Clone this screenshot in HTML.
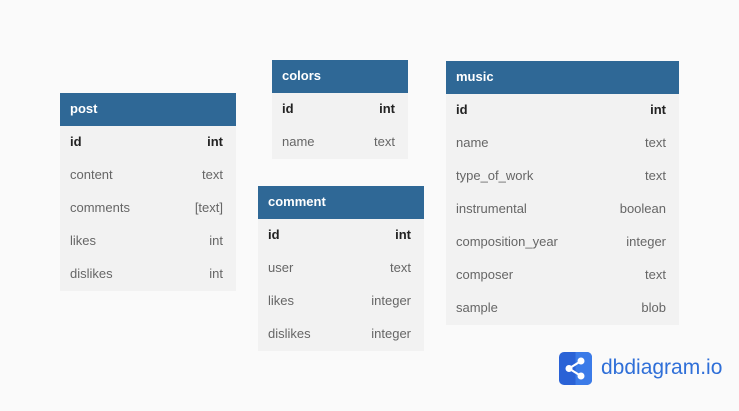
<!DOCTYPE html>
<html><head><style>
body{margin:0;width:739px;height:411px;background:#fafafa;font-family:"Liberation Sans",sans-serif;position:relative;overflow:hidden}
.t{position:absolute;background:#f2f2f2}
.h{background:#2f6896;color:#fff;font-weight:bold;font-size:13px;height:33px;line-height:31px;padding-left:10px}
.r{height:33px;line-height:31px;font-size:13px;color:#666;display:flex;justify-content:space-between;padding:0 13px 0 10px}
.r.k{color:#222;font-weight:bold}
</style></head><body>
<div class="t" style="left:60px;top:93px;width:176px">
<div class="h">post</div>
<div class="r k"><span>id</span><span>int</span></div>
<div class="r"><span>content</span><span>text</span></div>
<div class="r"><span>comments</span><span>[text]</span></div>
<div class="r"><span>likes</span><span>int</span></div>
<div class="r"><span>dislikes</span><span>int</span></div>
</div>
<div class="t" style="left:272px;top:60px;width:136px">
<div class="h">colors</div>
<div class="r k"><span>id</span><span>int</span></div>
<div class="r"><span>name</span><span>text</span></div>
</div>
<div class="t" style="left:258px;top:186px;width:166px">
<div class="h">comment</div>
<div class="r k"><span>id</span><span>int</span></div>
<div class="r"><span>user</span><span>text</span></div>
<div class="r"><span>likes</span><span>integer</span></div>
<div class="r"><span>dislikes</span><span>integer</span></div>
</div>
<div class="t" style="left:446px;top:61px;width:233px">
<div class="h">music</div>
<div class="r k"><span>id</span><span>int</span></div>
<div class="r"><span>name</span><span>text</span></div>
<div class="r"><span>type_of_work</span><span>text</span></div>
<div class="r"><span>instrumental</span><span>boolean</span></div>
<div class="r"><span>composition_year</span><span>integer</span></div>
<div class="r"><span>composer</span><span>text</span></div>
<div class="r"><span>sample</span><span>blob</span></div>
</div>
<svg style="position:absolute;left:559px;top:352px" width="33" height="33" viewBox="0 0 33 33">
<rect width="33" height="33" rx="5" fill="#2a62d6"/>
<path d="M16.5 0H28a5 5 0 0 1 5 5v23a5 5 0 0 1-5 5H16.5z" fill="#3b7be8"/>
<circle cx="10" cy="16.5" r="3.5" fill="#fff"/>
<circle cx="22" cy="9" r="3.5" fill="#fff"/>
<circle cx="22" cy="24" r="3.5" fill="#fff"/>
<path d="M10 16.5L22 9M10 16.5L22 24" stroke="#fff" stroke-width="2.2"/>
</svg>
<div style="position:absolute;left:601px;top:355px;font-size:21px;color:#2f6fd8;line-height:26px">dbdiagram.io</div>
</body></html>
